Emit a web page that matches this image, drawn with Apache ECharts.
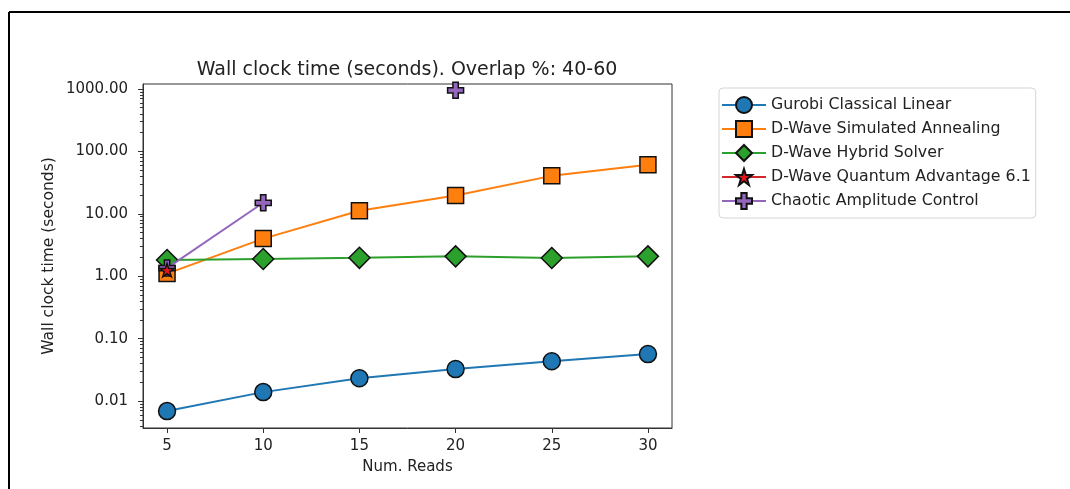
<!DOCTYPE html>
<html>
<head>
<meta charset="utf-8">
<script src="https://cdn.jsdelivr.net/npm/echarts@6/dist/echarts.min.js"></script>
<style>
html,body{margin:0;padding:0;background:#fff;}
#main{width:1070px;height:489px;}
</style>
</head>
<body>
<div id="main"></div>
<script>
// ---- data ----
const numReads = [5, 10, 15, 20, 25, 30];
const gurobi = [0.0069, 0.0139, 0.0232, 0.0325, 0.0435, 0.0565];
const simAnnealing = [1.1, 4.0, 11.2, 19.7, 40.5, 61];
const hybrid = [1.82, 1.89, 1.97, 2.08, 1.96, 2.08];
const quantumAdv = [1.25, null, null, null, null, null];
const chaotic = [1.35, 15.0, null, 950, null, null];
const seriesNames = ['Gurobi Classical Linear', 'D-Wave Simulated Annealing', 'D-Wave Hybrid Solver', 'D-Wave Quantum Advantage 6.1', 'Chaotic Amplitude Control'];
const xTicks = [5, 10, 15, 20, 25, 30];
const yTicks = [0.01, 0.1, 1, 10, 100, 1000];

const minorTicks = [];
for (let e = -3; e <= 3; e++) {
  for (let m = 2; m <= 9; m++) {
    const v = +(m * Math.pow(10, e)).toPrecision(3);
    if (v > 0.0037 && v < 1200) minorTicks.push(v);
  }
}

const starPath = 'path://M100 0 L122.45 69.1 L195.1 69.1 L136.3 111.8 L158.8 180.9 L100 138.2 L41.2 180.9 L63.7 111.8 L4.9 69.1 L77.55 69.1 Z';
const plusPath = 'path://M10 0 L20 0 L20 10 L30 10 L30 20 L20 20 L20 30 L10 30 L10 20 L0 20 L0 10 L10 10 Z';

const colors = ['#1f77b4', '#ff7f0e', '#2ca02c', '#d62728', '#9467bd'];
const font = 'DejaVu Sans';

function pair(arr) { return numReads.map((x, i) => [x, arr[i]]); }

function mk(name, data, color, symbol, size, z, markerColor) {
  return {
    name: name, type: 'line', data: pair(data), z: z,
    symbol: symbol, symbolSize: size, symbolKeepAspect: true,
    showAllSymbol: true, connectNulls: false,
    lineStyle: { color: color, width: 2 },
    itemStyle: { color: markerColor || color, borderColor: '#111', borderWidth: 1.5 },
    emphasis: { disabled: true },
    animation: false
  };
}

const chart = echarts.init(document.getElementById('main'), null, { renderer: 'canvas' });
chart.setOption({
  animation: false,
  backgroundColor: '#fff',
  textStyle: { fontFamily: font },
  title: {
    text: 'Wall clock time (seconds). Overlap %: 40-60',
    left: 402, top: 56, textAlign: 'center',
    textStyle: { fontFamily: font, fontSize: 19, fontWeight: 'normal', color: '#222' }
  },
  grid: { left: 143, right: 398, top: 84, bottom: 61, show: true, borderColor: '#333', borderWidth: 1, containLabel: false },
  legend: {
    orient: 'vertical', left: 719, top: 88,
    data: seriesNames,
    itemWidth: 44, itemHeight: 20, itemGap: 6,
    padding: [8, 5, 8, 2],
    borderColor: '#d5d5d5', borderWidth: 1, borderRadius: 4,
    textStyle: { fontFamily: font, fontSize: 15.8, color: '#222' }
  },
  xAxis: {
    type: 'value', min: 3.75, max: 31.25,
    name: 'Num. Reads', nameLocation: 'middle', nameGap: 32,
    nameTextStyle: { fontFamily: font, fontSize: 15, color: '#222' },
    axisLine: { show: true, onZero: false, lineStyle: { color: '#333', width: 1 } },
    axisTick: { show: true, length: 5, customValues: xTicks, lineStyle: { color: '#333' } },
    axisLabel: { customValues: xTicks, margin: 11, fontFamily: font, fontSize: 15, color: '#222' },
    splitLine: { show: false }
  },
  yAxis: [{
    type: 'log', logBase: 10, min: 0.0037, max: 1200,
    name: 'Wall clock time (seconds)', nameLocation: 'middle', nameGap: 86,
    nameTextStyle: { fontFamily: font, fontSize: 15.5, color: '#222' },
    axisLine: { show: true, lineStyle: { color: '#333', width: 1 } },
    axisTick: { show: true, length: 5, customValues: yTicks, lineStyle: { color: '#333' } },
    axisLabel: {
      customValues: yTicks, margin: 15, fontFamily: font, fontSize: 15, color: '#222',
      formatter: function (v) { return Number(v).toFixed(2); }
    },
    splitLine: { show: false }
  }, {
    type: 'log', logBase: 10, min: 0.0037, max: 1200, position: 'left', offset: 0,
    axisLine: { show: false },
    axisTick: { show: true, length: 3, customValues: minorTicks, lineStyle: { color: '#333' } },
    axisLabel: { show: false },
    splitLine: { show: false }
  }],
  series: [
    mk(seriesNames[0], gurobi, colors[0], 'circle', 17, 2),
    mk(seriesNames[1], simAnnealing, colors[1], 'rect', 16, 3),
    mk(seriesNames[2], hybrid, colors[2], 'diamond', 21, 4),
    mk(seriesNames[3], quantumAdv, colors[3], starPath, 14, 6, '#e8141c'),
    mk(seriesNames[4], chaotic, colors[4], plusPath, 16, 5)
  ],
  graphic: [
    { type: 'line', shape: { x1: 9, y1: 12, x2: 1070, y2: 12 }, style: { stroke: '#000', lineWidth: 2 } },
    { type: 'line', shape: { x1: 9, y1: 12, x2: 9, y2: 489 }, style: { stroke: '#000', lineWidth: 2 } }
  ]
});
</script>
</body>
</html>
